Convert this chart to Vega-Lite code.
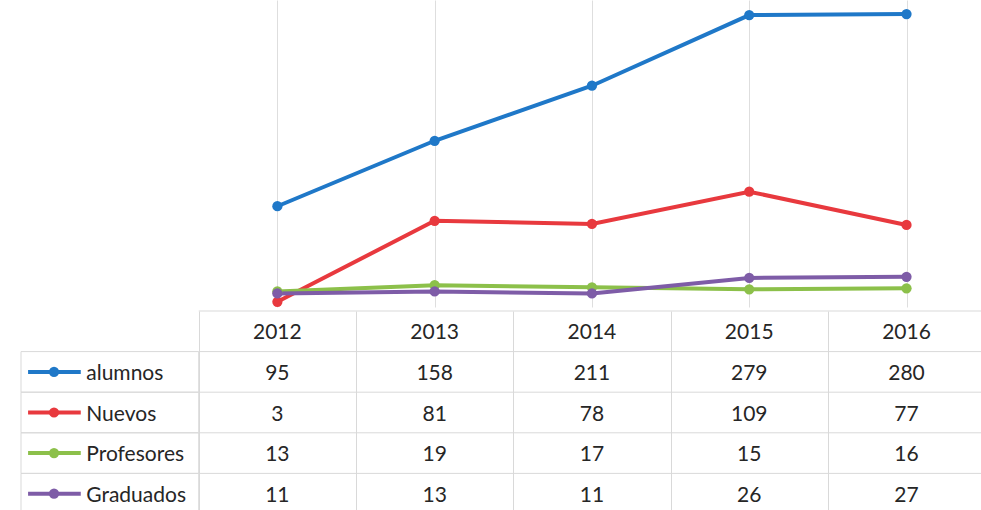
{
  "$schema": "https://vega.github.io/schema/vega-lite/v6.json",
  "padding": {"left": 20, "top": 0, "right": 0, "bottom": 0},
  "background": "white",
  "spacing": 0,
  "config": {"view": {"stroke": null}, "font": "Lato", "concat": {"spacing": 0}},
  "datasets": {
    "d": [
      {"year": 2012, "series": "alumnos", "value": 95},
      {"year": 2013, "series": "alumnos", "value": 158},
      {"year": 2014, "series": "alumnos", "value": 211},
      {"year": 2015, "series": "alumnos", "value": 279},
      {"year": 2016, "series": "alumnos", "value": 280},
      {"year": 2012, "series": "Nuevos", "value": 3},
      {"year": 2013, "series": "Nuevos", "value": 81},
      {"year": 2014, "series": "Nuevos", "value": 78},
      {"year": 2015, "series": "Nuevos", "value": 109},
      {"year": 2016, "series": "Nuevos", "value": 77},
      {"year": 2012, "series": "Profesores", "value": 13},
      {"year": 2013, "series": "Profesores", "value": 19},
      {"year": 2014, "series": "Profesores", "value": 17},
      {"year": 2015, "series": "Profesores", "value": 15},
      {"year": 2016, "series": "Profesores", "value": 16},
      {"year": 2012, "series": "Graduados", "value": 11},
      {"year": 2013, "series": "Graduados", "value": 13},
      {"year": 2014, "series": "Graduados", "value": 11},
      {"year": 2015, "series": "Graduados", "value": 26},
      {"year": 2016, "series": "Graduados", "value": 27}
    ]
  },
  "vconcat": [
    {
      "width": 961,
      "height": 307,
      "data": {"name": "d"},
      "encoding": {
        "x": {
          "field": "year", "type": "quantitative",
          "scale": {"domain": [2010.37, 2016.48], "nice": false, "zero": false},
          "axis": {"values": [2012, 2013, 2014, 2015, 2016], "grid": true, "gridColor": "#dedede", "labels": false, "ticks": false, "domain": false, "title": null}
        },
        "y": {
          "field": "value", "type": "quantitative",
          "scale": {"domain": [-2, 293.5], "nice": false, "zero": false},
          "axis": null
        },
        "color": {
          "field": "series", "type": "nominal",
          "scale": {"domain": ["alumnos", "Nuevos", "Profesores", "Graduados"], "range": ["#1f78c8", "#e8393e", "#8cc04a", "#7e5ca7"]},
          "legend": null
        }
      },
      "layer": [
        {"mark": {"type": "line", "strokeWidth": 4}},
        {"mark": {"type": "point", "filled": true, "size": 105, "opacity": 1}}
      ]
    },
    {
      "width": 961,
      "height": 203,
      "data": {"name": "d"},
      "encoding": {
        "x": {
          "field": "year", "type": "quantitative",
          "scale": {"domain": [2010.37, 2016.48], "nice": false, "zero": false},
          "axis": {"values": [2011.5, 2012.5, 2013.5, 2014.5, 2015.5, 2016.5], "grid": true, "gridColor": "#d9d9d9", "labels": false, "ticks": false, "domain": false, "title": null}
        },
        "y": {
          "field": "series", "type": "nominal",
          "scale": {"domain": ["hdr", "alumnos", "Nuevos", "Profesores", "Graduados"], "paddingInner": 0, "paddingOuter": 0},
          "axis": null
        }
      },
      "layer": [
        {
          "transform": [{"filter": "datum.year == 2012"}],
          "mark": {"type": "rect", "fill": "white", "fillOpacity": 0, "stroke": "#d9d9d9", "strokeWidth": 1},
          "encoding": {
            "x": {"datum": 2010.37, "type": "quantitative"},
            "x2": {"datum": 2011.5}
          }
        },
        {
          "transform": [{"filter": "datum.year == 2012"}],
          "mark": {"type": "rule", "color": "#d9d9d9", "strokeWidth": 1},
          "encoding": {
            "x": {"datum": 2011.5, "type": "quantitative"},
            "x2": {"datum": 2016.48},
            "y": {"field": "series", "type": "nominal", "bandPosition": 0}
          }
        },
        {
          "transform": [{"filter": "datum.year == 2012 && datum.series == 'alumnos'"}],
          "mark": {"type": "rule", "color": "#d9d9d9", "strokeWidth": 1},
          "encoding": {
            "x": {"datum": 2011.5, "type": "quantitative"},
            "x2": {"datum": 2016.48},
            "y": {"datum": "hdr", "type": "nominal", "bandPosition": 0}
          }
        },
        {
          "mark": {"type": "text", "fontSize": 21, "color": "#262626", "baseline": "middle", "dy": 2},
          "encoding": {
            "text": {"field": "value", "type": "quantitative"}
          }
        },
        {
          "transform": [{"filter": "datum.series == 'alumnos'"}],
          "mark": {"type": "text", "fontSize": 21, "color": "#262626", "baseline": "middle", "dy": 2},
          "encoding": {
            "y": {"datum": "hdr", "type": "nominal"},
            "text": {"field": "year", "type": "ordinal"}
          }
        },
        {
          "transform": [{"filter": "datum.year == 2012"}],
          "mark": {"type": "text", "fontSize": 21, "color": "#262626", "baseline": "middle", "align": "left", "dy": 2},
          "encoding": {
            "x": {"datum": 2010.785, "type": "quantitative"},
            "text": {"field": "series", "type": "nominal"}
          }
        },
        {
          "transform": [{"filter": "datum.year == 2012"}],
          "mark": {"type": "rule", "strokeWidth": 4},
          "encoding": {
            "x": {"datum": 2010.415, "type": "quantitative"},
            "x2": {"datum": 2010.75},
            "color": {"field": "series", "type": "nominal", "scale": {"domain": ["alumnos", "Nuevos", "Profesores", "Graduados"], "range": ["#1f78c8", "#e8393e", "#8cc04a", "#7e5ca7"]}, "legend": null}
          }
        },
        {
          "transform": [{"filter": "datum.year == 2012"}],
          "mark": {"type": "point", "filled": true, "size": 105, "opacity": 1},
          "encoding": {
            "x": {"datum": 2010.58, "type": "quantitative"},
            "color": {"field": "series", "type": "nominal", "legend": null}
          }
        }
      ]
    }
  ]
}
